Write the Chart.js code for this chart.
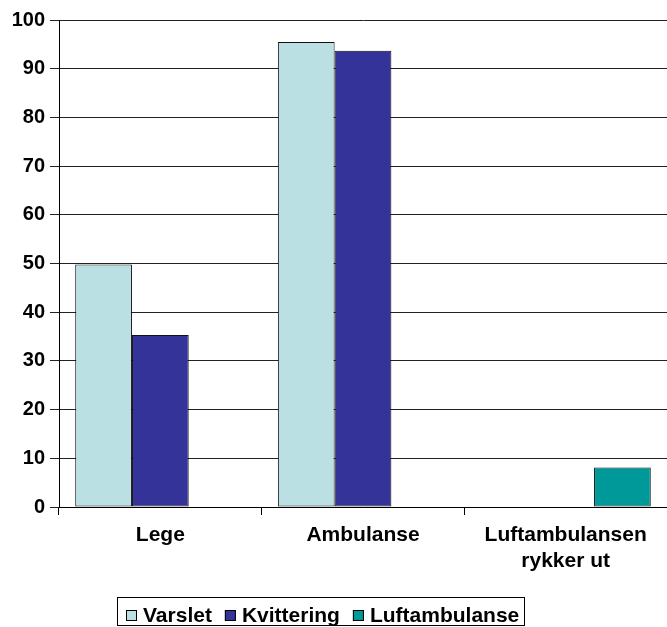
<!DOCTYPE html>
<html>
<head>
<meta charset="utf-8">
<script src="https://cdn.jsdelivr.net/npm/chart.js@4"></script>
<style>
  html, body { margin: 0; padding: 0; background: #fff; }
  #wrap { width: 667px; height: 627px; }
</style>
</head>
<body>
<div id="wrap"><canvas id="chart" width="667" height="627"></canvas></div>
<script>
// --- Data ---
const categories = ["Lege", "Ambulanse", ["Luftambulansen", "rykker ut"]];
const varslet = [49.8, 95.5, null];
const kvittering = [35.3, 93.7, null];
const luftambulanse = [null, null, 8.1];
const yTicks = { min: 0, max: 100, step: 10 };

const FONT = "'Liberation Sans', Arial, sans-serif";

// --- Boxed legend drawn under the x labels ---
const boxedLegend = {
  id: "boxedLegend",
  afterDraw(chart) {
    const ctx = chart.ctx;
    const sets = chart.data.datasets;
    ctx.save();
    ctx.font = "bold 21px " + FONT;
    ctx.textBaseline = "alphabetic";
    ctx.lineWidth = 1;
    let x = 126;
    sets.forEach((ds, i) => {
      ctx.fillStyle = ds.backgroundColor;
      ctx.fillRect(x, 610, 11, 11);
      ctx.strokeStyle = "#000";
      ctx.strokeRect(x + 0.5, 610.5, 10, 10);
      ctx.fillStyle = "#000";
      ctx.fillText(ds.label, x + 17, 622);
      x += 17 + ctx.measureText(ds.label).width;
      if (i < sets.length - 1) x += 13;
    });
    ctx.strokeRect(117.5, 597.5, Math.round(x + 5) - 117, 28);
    ctx.restore();
  }
};

// --- Chart.js setup ---
const ctx = document.getElementById("chart").getContext("2d");
new Chart(ctx, {
  type: "bar",
  data: {
    labels: categories,
    datasets: [
      { label: "Varslet", data: varslet, backgroundColor: "#BBE0E3" },
      { label: "Kvittering", data: kvittering, backgroundColor: "#333399" },
      { label: "Luftambulanse", data: luftambulanse, backgroundColor: "#009999" }
    ]
  },
  options: {
    responsive: false,
    animation: false,
    devicePixelRatio: 1,
    categoryPercentage: 0.84,
    barPercentage: 1,
    datasets: {
      bar: { borderColor: "#111", borderWidth: 1, borderSkipped: false }
    },
    layout: { padding: { top: 20, right: 0, left: 0, bottom: 29 } },
    plugins: {
      tooltip: { enabled: false },
      legend: { display: false }
    },
    scales: {
      x: {
        offset: true,
        afterFit: (scale) => { scale.height = 91; },
        grid: { offset: true, drawOnChartArea: false, color: "#000", tickLength: 8 },
        border: { color: "#000" },
        ticks: {
          color: "#000",
          padding: 7,
          maxRotation: 0,
          font: { family: FONT, size: 21, weight: "bold", lineHeight: 1.25 }
        }
      },
      y: {
        min: yTicks.min,
        max: yTicks.max,
        afterFit: (scale) => { scale.width = 59; },
        grid: { color: "#222", tickLength: 9 },
        border: { color: "#000" },
        ticks: {
          stepSize: yTicks.step,
          color: "#000",
          padding: 5,
          font: { family: FONT, size: 20, weight: "bold" }
        }
      }
    }
  },
  plugins: [boxedLegend]
});
</script>
</body>
</html>
